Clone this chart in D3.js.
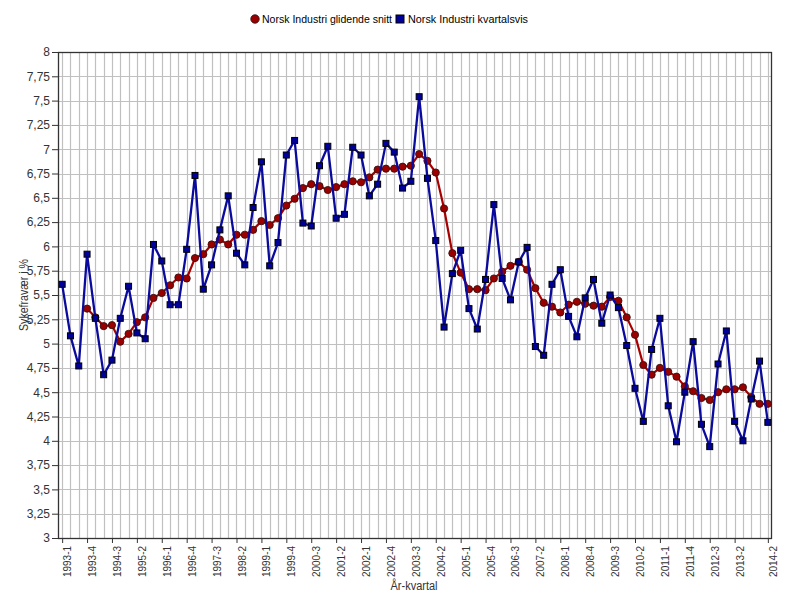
<!DOCTYPE html>
<html><head><meta charset="utf-8">
<script src="https://cdn.jsdelivr.net/npm/d3@7"></script>
<style>body{margin:0;background:#fff}svg{display:block;font-family:Arial,"Liberation Sans",sans-serif}</style>
</head><body><svg id="c" width="795" height="609"></svg>
<script>
const categories = ["1993-1","1993-2","1993-3","1993-4","1994-1","1994-2","1994-3","1994-4","1995-1","1995-2","1995-3","1995-4","1996-1","1996-2","1996-3","1996-4","1997-1","1997-2","1997-3","1997-4","1998-1","1998-2","1998-3","1998-4","1999-1","1999-2","1999-3","1999-4","2000-1","2000-2","2000-3","2000-4","2001-1","2001-2","2001-3","2001-4","2002-1","2002-2","2002-3","2002-4","2003-1","2003-2","2003-3","2003-4","2004-1","2004-2","2004-3","2004-4","2005-1","2005-2","2005-3","2005-4","2006-1","2006-2","2006-3","2006-4","2007-1","2007-2","2007-3","2007-4","2008-1","2008-2","2008-3","2008-4","2009-1","2009-2","2009-3","2009-4","2010-1","2010-2","2010-3","2010-4","2011-1","2011-2","2011-3","2011-4","2012-1","2012-2","2012-3","2012-4","2013-1","2013-2","2013-3","2013-4","2014-1","2014-2"];
const quarterly = [5.61,5.08,4.77,5.92,5.26,4.68,4.83,5.26,5.59,5.11,
 5.05,6.02,5.85,5.40,5.40,5.97,6.73,5.56,5.81,6.17,
 6.52,5.93,5.81,6.40,6.87,5.80,6.04,6.94,7.09,6.24,
 6.21,6.83,7.03,6.29,6.33,7.02,6.94,6.52,6.64,7.06,
 6.97,6.60,6.67,7.54,6.70,6.06,5.17,5.72,5.96,5.36,
 5.15,5.66,6.43,5.67,5.45,5.84,5.99,4.97,4.88,5.61,
 5.76,5.28,5.07,5.47,5.66,5.21,5.50,5.37,4.98,4.54,
 4.20,4.94,5.26,4.36,3.99,4.50,5.02,4.17,3.94,4.79,
 5.13,4.20,4.00,4.43,4.82,4.19];
const rolling = [null,null,null,5.36,5.27,5.18,5.19,5.02,5.10,5.22,
 5.27,5.47,5.52,5.60,5.68,5.67,5.88,5.92,6.02,6.07,
 6.02,6.12,6.12,6.17,6.26,6.22,6.29,6.42,6.49,6.60,
 6.64,6.62,6.58,6.61,6.64,6.67,6.66,6.71,6.79,6.80,
 6.80,6.82,6.83,6.95,6.88,6.76,6.39,5.93,5.73,5.56,
 5.56,5.55,5.67,5.74,5.80,5.84,5.76,5.57,5.42,5.38,
 5.32,5.40,5.43,5.41,5.39,5.38,5.48,5.44,5.27,5.09,
 4.78,4.68,4.75,4.71,4.66,4.56,4.51,4.44,4.42,4.50,
 4.53,4.53,4.55,4.45,4.38,4.38];
const xTickLabels = ["1993-1","1993-4","1994-3","1995-2","1996-1","1996-4","1997-3","1998-2","1999-1","1999-4","2000-3","2001-2","2002-1","2002-4","2003-3","2004-2","2005-1","2005-4","2006-3","2007-2","2008-1","2008-4","2009-3","2010-2","2011-1","2011-4","2012-3","2013-2","2014-2"];
const yTicks = [3,3.25,3.5,3.75,4,4.25,4.5,4.75,5,5.25,5.5,5.75,6,6.25,6.5,6.75,7,7.25,7.5,7.75,8];
const seriesNames = ["Norsk Industri glidende snitt","Norsk Industri kvartalsvis"];

const svg = d3.select("#c");
const L=58, R=772, T=52, B=538;
const x = d3.scalePoint().domain(categories).range([L,R]).padding(0.5);
const y = d3.scaleLinear().domain([3,8]).range([B,T]);
const fmt = v => String(v).replace(".", ",");

// grid
const g = svg.append("g");
g.selectAll(".vg").data(categories).join("line")
 .attr("x1",d=>Math.round(x(d))+0.5).attr("x2",d=>Math.round(x(d))+0.5)
 .attr("y1",T).attr("y2",B).attr("stroke","#c0c0c0").attr("stroke-width",1.2);
g.selectAll(".hg").data(yTicks).join("line")
 .attr("x1",L).attr("x2",R).attr("y1",d=>Math.round(y(d))+0.5).attr("y2",d=>Math.round(y(d))+0.5)
 .attr("stroke","#c0c0c0").attr("stroke-width",1.2);

// frame
svg.append("rect").attr("x",L+0.5).attr("y",T+0.5).attr("width",R-L-1).attr("height",B-T)
 .attr("fill","none").attr("stroke","#333").attr("stroke-width",1.3);

// y axis
const yAxis = svg.append("g").attr("transform",`translate(${L},0)`)
 .call(d3.axisLeft(y).tickValues(yTicks).tickSize(6).tickPadding(2).tickFormat(fmt));
yAxis.select(".domain").attr("stroke","#333");
yAxis.selectAll(".tick line").attr("stroke","#333");
yAxis.selectAll("text").attr("font-size",12).attr("fill","#333").attr("font-family","Arial,'Liberation Sans',sans-serif");

// x axis
const xAxis = svg.append("g").attr("transform",`translate(0,${B})`)
 .call(d3.axisBottom(x).tickValues(xTickLabels).tickSize(5).tickFormat(d=>d));
xAxis.select(".domain").remove();
xAxis.selectAll(".tick line").attr("stroke","#333");
xAxis.selectAll("text").attr("font-size",11.5).attr("fill","#333")
 .attr("font-family","Arial,'Liberation Sans',sans-serif")
 .attr("text-anchor","end").attr("dy",null).attr("y",null)
 .attr("transform","translate(8.5,8) rotate(-90)")
 .attr("textLength",31).attr("lengthAdjust","spacingAndGlyphs");

// axis titles
svg.append("text").attr("x",414).attr("y",590).attr("text-anchor","middle")
 .attr("font-size",12).attr("fill","#333").attr("textLength",47).attr("lengthAdjust","spacingAndGlyphs").text("År-kvartal");
svg.append("text").attr("transform",`translate(28,${(T+B)/2}) rotate(-90)`).attr("text-anchor","middle")
 .attr("font-size",12).attr("fill","#333").attr("textLength",72).attr("lengthAdjust","spacingAndGlyphs").text("Sykefravær i %");

// rolling series
const rollData = categories.map((c,i)=>({c,v:rolling[i]})).filter(d=>d.v!=null);
const line = d3.line().x(d=>x(d.c)).y(d=>y(d.v));
svg.append("path").datum(rollData).attr("d",line).attr("fill","none")
 .attr("stroke","#a80000").attr("stroke-width",2.2).attr("stroke-linejoin","round");
svg.selectAll(".rc").data(rollData).join("circle").attr("cx",d=>x(d.c)).attr("cy",d=>y(d.v))
 .attr("r",3.6).attr("fill","#9a0000").attr("stroke","#3a1010").attr("stroke-width",0.9);

// quarterly series
const qData = categories.map((c,i)=>({c,v:quarterly[i]}));
svg.append("path").datum(qData).attr("d",line).attr("fill","none")
 .attr("stroke","#0a0a9c").attr("stroke-width",2.3).attr("stroke-linejoin","round");
svg.selectAll(".qs").data(qData).join("rect").attr("x",d=>x(d.c)-3).attr("y",d=>y(d.v)-3)
 .attr("width",6).attr("height",6).attr("fill","#00009a").attr("stroke","#000").attr("stroke-width",1);

// legend
const lg = svg.append("g");
lg.append("circle").attr("cx",255).attr("cy",19).attr("r",4.2).attr("fill","#9a0000").attr("stroke","#3a1010").attr("stroke-width",0.9);
lg.append("text").attr("x",262).attr("y",23).attr("font-size",11).attr("fill","#000").attr("textLength",130).attr("lengthAdjust","spacingAndGlyphs").text(seriesNames[0]);
lg.append("rect").attr("x",396).attr("y",15).attr("width",8).attr("height",8).attr("fill","#00009a").attr("stroke","#000").attr("stroke-width",1);
lg.append("text").attr("x",408).attr("y",23).attr("font-size",11).attr("fill","#000").attr("textLength",120).attr("lengthAdjust","spacingAndGlyphs").text(seriesNames[1]);
</script></body></html>
